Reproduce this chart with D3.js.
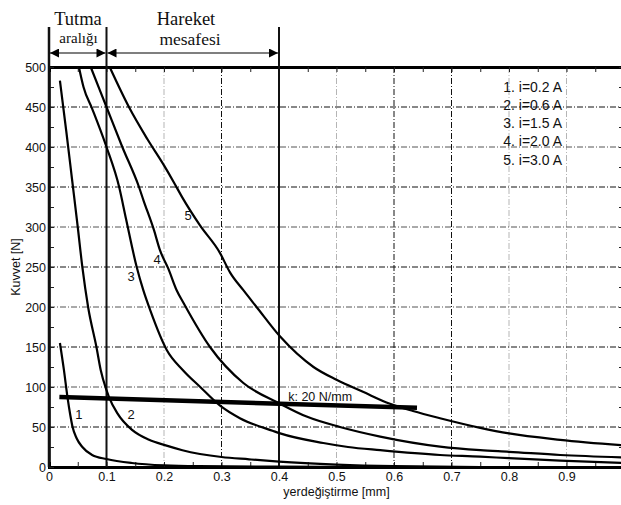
<!DOCTYPE html>
<html>
<head>
<meta charset="utf-8">
<script src="https://cdn.jsdelivr.net/npm/d3@7"></script>
<style>
  body { margin: 0; background: #fff; }
  text { font-family: "Liberation Sans", Arial, sans-serif; fill: #111; }
  .serif { font-family: "Liberation Serif", "Times New Roman", serif; }
</style>
</head>
<body>
<div id="chart"></div>
<script>
// curve data: [yerdeğiştirme mm, kuvvet N]
const curve1 = [[0.019,155],[0.026,121],[0.032,88],[0.037,65],[0.041,50],[0.048,36],[0.058,25],[0.075,15],[0.1,10],[0.144,5],[0.2,2],[0.26,1],[0.4,0.5],[0.6,0],[1,0]];
const curve2 = [[0.019,483],[0.03,420],[0.04,360],[0.05,300],[0.058,250],[0.068,200],[0.0825,150],[0.09,121],[0.1,96],[0.104,88],[0.119,67],[0.145,46],[0.174,34],[0.203,27],[0.232,21],[0.3,12.5],[0.348,9.6],[0.4,6.7],[0.5,3],[0.6,1],[0.75,0],[1,0]];
const curve3 = [[0.052,500],[0.06,475],[0.075,448],[0.1,400],[0.122,350],[0.134,310],[0.1525,250],[0.164,221],[0.176,196],[0.205,146],[0.233,121],[0.263,100],[0.297,77],[0.332,61],[0.39,45],[0.402,42],[0.477,30],[0.52,25],[0.576,21],[0.68,15],[0.75,13],[0.8,11],[0.889,8],[1,5]];
const curve4 = [[0.0725,500],[0.1,450],[0.1275,400],[0.1565,350],[0.164,334],[0.1826,296],[0.193,271],[0.2075,248],[0.222,221],[0.234,205],[0.28,150],[0.338,105],[0.402,79],[0.448,63],[0.506,50],[0.576,38],[0.68,25.5],[0.75,21],[0.8,19],[0.889,15],[1,12]];
const curve5 = [[0.1055,500],[0.139,450],[0.171,410],[0.2,377],[0.217,356],[0.231,338],[0.2626,302],[0.297,268],[0.315,243],[0.338,221],[0.361,200],[0.402,163],[0.46,125],[0.5,109],[0.546,94],[0.593,79],[0.633,70],[0.68,61],[0.75,49],[0.8,42],[0.889,34],[1,27]];
const springLine = [[0.018,87.5],[0.64,74]];

const curveNames = ["1", "2", "3", "4", "5"];
const curveLabelPos = [[0.052,66],[0.143,66],[0.143,238],[0.188,259],[0.242,315]];
const legendLabels = ["1. i=0.2 A", "2. i=0.6 A", "3. i=1.5 A", "4. i=2.0 A", "5. i=3.0 A"];
const springLabel = "k: 20 N/mm";
const springLabelPos = [0.416, 88.5];

const xTicks = [0,0.1,0.2,0.3,0.4,0.5,0.6,0.7,0.8,0.9];
const yTicks = [0,50,100,150,200,250,300,350,400,450,500];
const rangeMarks = [0, 0.1, 0.4];   // Tutma aralığı / Hareket mesafesi limits

const width = 621;
const height = 505;
const margin = { top: 67, left: 49, bottom: 38 };
const plotRight = 624;

const svg = d3.select("#chart")
    .append("svg")
    .attr("width", width)
    .attr("height", height);

const x = d3.scaleLinear().domain([0, 1]).range([margin.left, plotRight]);
const y = d3.scaleLinear().domain([0, 500]).range([height - margin.bottom, margin.top]);

// grid
const darkX = [0.3, 0.6, 0.7];
svg.append("g").selectAll("line")
    .data(d3.range(0.2, 1, 0.1).map(v => +v.toFixed(1)).filter(v => v !== 0.4))
    .enter().append("line")
    .attr("x1", d => x(d)).attr("x2", d => x(d))
    .attr("y1", y(500)).attr("y2", y(0))
    .attr("stroke", d => darkX.includes(d) ? "#111" : "#b5b5b5")
    .attr("stroke-width", 1)
    .attr("stroke-dasharray", "6,2,1,2");

svg.append("g").selectAll("line")
    .data(yTicks.filter(v => v > 0 && v < 500))
    .enter().append("line")
    .attr("x1", x(0)).attr("x2", x(1))
    .attr("y1", d => y(d)).attr("y2", d => y(d))
    .attr("stroke", d => d % 100 === 50 ? "#111" : "#555")
    .attr("stroke-width", 1)
    .attr("stroke-dasharray", "6,2,1,2");

// axes with inward ticks
const minorX = d3.range(0, 21).map(i => i * 0.05);
const minorY = d3.range(0, 21).map(i => i * 25);

svg.append("g")
    .attr("transform", `translate(0,${y(0)})`)
    .call(d3.axisBottom(x).tickValues(minorX).tickSize(-5).tickPadding(5)
        .tickFormat(d => {
            const i = xTicks.findIndex(t => Math.abs(t - d) < 1e-6);
            return i >= 0 ? String(xTicks[i]) : "";
        }))
    .call(g => g.select(".domain").attr("stroke-width", 3))
    .call(g => g.selectAll("text").style("font-size", "12.5px"));

svg.append("g")
    .attr("transform", `translate(0,${y(500)})`)
    .call(d3.axisTop(x).tickValues(minorX).tickSize(-5).tickFormat(""))
    .call(g => g.select(".domain").attr("stroke-width", 3));

svg.append("g")
    .attr("transform", `translate(${x(0)},0)`)
    .call(d3.axisLeft(y).tickValues(minorY).tickSize(-5).tickPadding(3)
        .tickFormat(d => yTicks.includes(d) ? d : ""))
    .call(g => g.select(".domain").attr("stroke-width", 2.5))
    .call(g => g.selectAll("text").style("font-size", "12.5px"));

svg.append("g")
    .attr("transform", `translate(${x(1)},0)`)
    .call(d3.axisRight(y).tickValues(minorY).tickSize(-5).tickFormat(""));

svg.selectAll(".tick line").attr("stroke", "#222");

// range marker lines
svg.append("g").selectAll("line")
    .data(rangeMarks)
    .enter().append("line")
    .attr("x1", d => x(d)).attr("x2", d => x(d))
    .attr("y1", 27).attr("y2", y(0))
    .attr("stroke", "#111")
    .attr("stroke-width", d => d === 0 ? 2.5 : 2);

// arrows
svg.append("defs").append("marker")
    .attr("id", "arrow")
    .attr("viewBox", "0 0 10 10")
    .attr("refX", 10).attr("refY", 5)
    .attr("markerUnits", "userSpaceOnUse")
    .attr("markerWidth", 11).attr("markerHeight", 9)
    .attr("orient", "auto-start-reverse")
    .append("path").attr("d", "M0,0L10,5L0,10z").attr("fill", "#000");

d3.pairs(rangeMarks).forEach(([a, b]) => {
    svg.append("line")
        .attr("x1", x(a) + 1).attr("x2", x(b) - 1)
        .attr("y1", 53).attr("y2", 53)
        .attr("stroke", "#000").attr("stroke-width", 1.2)
        .attr("marker-start", "url(#arrow)")
        .attr("marker-end", "url(#arrow)");
});

const heads = [
    { t: "Tutma", cx: 78, yy: 25, size: 18.5 },
    { t: "aralığı", cx: 78.5, yy: 43, size: 15 },
    { t: "Hareket", cx: 186, yy: 25, size: 18.5 },
    { t: "mesafesi", cx: 190, yy: 45, size: 17.5 }
];
svg.selectAll(".head")
    .data(heads)
    .enter().append("text")
    .attr("class", "head serif")
    .attr("x", d => d.cx).attr("y", d => d.yy)
    .attr("text-anchor", "middle")
    .style("font-size", d => d.size + "px")
    .text(d => d.t);

// curves
const line = d3.line()
    .x(d => x(d[0]))
    .y(d => y(d[1]))
    .curve(d3.curveMonotoneX);

const curves = [curve1, curve2, curve3, curve4, curve5];
svg.append("g").selectAll("path")
    .data(curves)
    .enter().append("path")
    .attr("d", line)
    .attr("fill", "none")
    .attr("stroke", "#000")
    .attr("stroke-width", 2.2);

svg.append("path")
    .attr("d", d3.line().x(d => x(d[0])).y(d => y(d[1]))(springLine))
    .attr("stroke", "#000")
    .attr("stroke-width", 4.5);

svg.append("text")
    .attr("x", x(springLabelPos[0])).attr("y", y(springLabelPos[1]) + 4.5)
    .style("font-size", "12.5px")
    .text(springLabel);

svg.selectAll(".clabel")
    .data(curveNames)
    .enter().append("text")
    .attr("class", "clabel")
    .attr("x", (d, i) => x(curveLabelPos[i][0]))
    .attr("y", (d, i) => y(curveLabelPos[i][1]) + 4.5)
    .attr("text-anchor", "middle")
    .style("font-size", "13px")
    .text(d => d);

// legend
svg.selectAll(".legend")
    .data(legendLabels)
    .enter().append("text")
    .attr("class", "legend")
    .attr("x", 562)
    .attr("y", (d, i) => 91.5 + i * 18.3)
    .attr("text-anchor", "end")
    .style("font-size", "14px")
    .text(d => d);

// axis titles
svg.append("text")
    .attr("x", (x(0) + x(1)) / 2)
    .attr("y", 496)
    .attr("text-anchor", "middle")
    .style("font-size", "12.5px")
    .text("yerdeğiştirme [mm]");

svg.append("text")
    .attr("transform", `translate(20,${y(250)}) rotate(-90)`)
    .attr("text-anchor", "middle")
    .style("font-size", "12.5px")
    .text("Kuvvet [N]");
</script>
</body>
</html>
